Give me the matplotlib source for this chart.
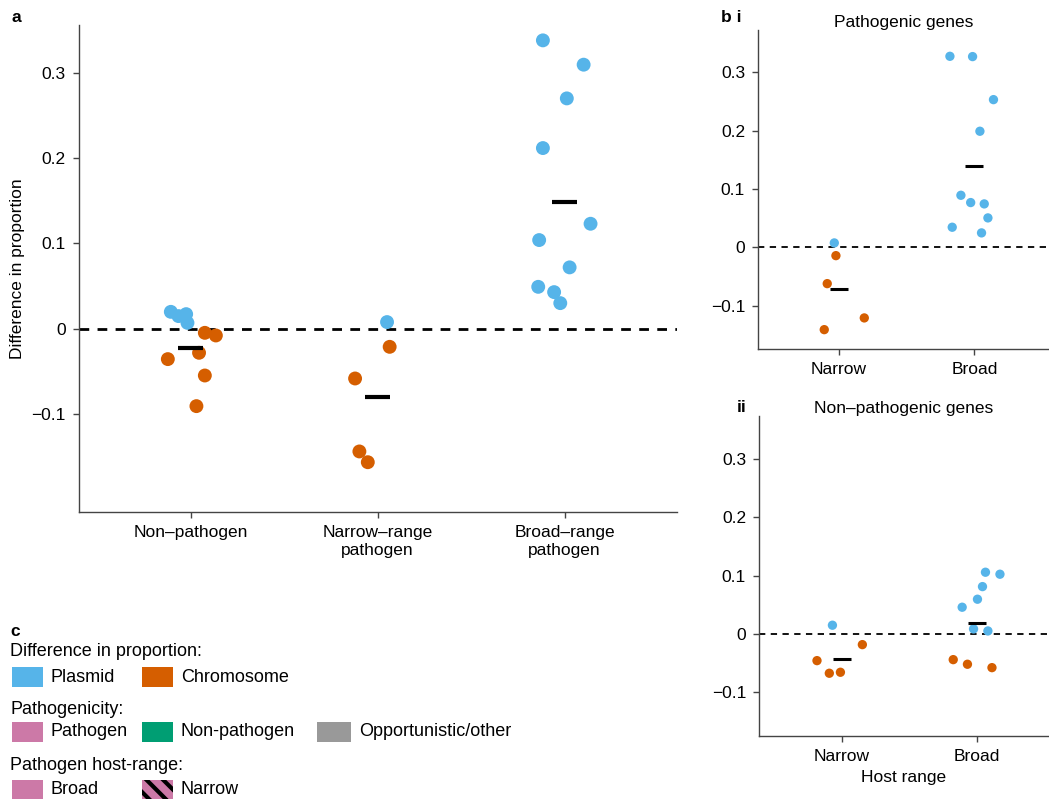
import numpy as np
import matplotlib
matplotlib.use("Agg")
import matplotlib.pyplot as plt
from matplotlib.patches import Rectangle

plt.rcParams['font.family'] = ['Liberation Sans', 'DejaVu Sans']
plt.rcParams['font.size'] = 12.5
plt.rcParams['hatch.linewidth'] = 3.0
plt.rcParams['hatch.color'] = 'black'

PLASMID = '#56B4E9'
CHROM = '#D55E00'
PATHOGEN = '#CC79A7'
NONPATH = '#009E73'
OTHER = '#999999'

# ---- panel a: difference in proportion by pathogen class ----
a_groups = ["Non\u2013pathogen", "Narrow\u2013range\npathogen", "Broad\u2013range\npathogen"]

a_plasmid_y = [[0.0199, 0.0149, 0.0172, 0.0070],
               [0.0079],
               [0.338, 0.3095, 0.270, 0.2118, 0.1231, 0.104, 0.072, 0.0492, 0.043, 0.0301]]
a_plasmid_jit = [[-0.107, -0.066, -0.025, -0.018],
                 [0.050],
                 [-0.116, 0.102, 0.012, -0.116, 0.139, -0.136, 0.027, -0.141, -0.056, -0.023]]

a_chrom_y = [[-0.0355, -0.0281, -0.0547, -0.0906, -0.0047, -0.0078],
             [-0.0211, -0.0582, -0.1437, -0.1563],
             []]
a_chrom_jit = [[-0.123, 0.044, 0.075, 0.030, 0.075, 0.134],
               [0.064, -0.121, -0.098, -0.053],
               []]

a_mean = [-0.0223, -0.0797, 0.1489]

# ---- panel b: pathogenic / non-pathogenic genes by host range ----
b_groups = ["Narrow", "Broad"]

bi_plasmid_y = [[0.0074],
                [0.3274, 0.3269, 0.2531, 0.1989, 0.0891, 0.0766, 0.0743, 0.0503, 0.0343, 0.0246]]
bi_plasmid_jit = [[-0.032],
                  [-0.180, -0.013, 0.141, 0.041, -0.099, -0.027, 0.073, 0.100, -0.163, 0.053]]
bi_chrom_y = [[-0.0144, -0.0624, -0.1413, -0.1212], []]
bi_chrom_jit = [[-0.020, -0.084, -0.106, 0.189], []]
bi_mean = [-0.0715, 0.1394]

bii_plasmid_y = [[0.0149],
                 [0.1056, 0.1022, 0.081, 0.0594, 0.0457, 0.0086, 0.0051]]
bii_plasmid_jit = [[-0.069],
                   [0.061, 0.168, 0.039, 0.002, -0.111, -0.027, 0.079]]
bii_chrom_y = [[-0.0457, -0.0673, -0.0656, -0.0183],
               [-0.044, -0.0519, -0.0577]]
bii_chrom_jit = [[-0.183, -0.092, -0.010, 0.152],
                 [-0.177, -0.072, 0.109]]
bii_mean = [-0.0428, 0.0183]

yticks = [-0.1, 0, 0.1, 0.2, 0.3]
ytick_labels = ["\u22120.1", "0", "0.1", "0.2", "0.3"]


def style_axis(ax):
    for side in ['top', 'right']:
        ax.spines[side].set_visible(False)
    for side in ['left', 'bottom']:
        ax.spines[side].set_color('#444444')
        ax.spines[side].set_linewidth(1.0)
    ax.tick_params(length=4.5, width=1.0, color='#444444', pad=5, labelsize=12.5)
    ax.set_yticks(yticks)
    ax.set_yticklabels(ytick_labels)


def draw_strip(ax, plasmid_y, plasmid_jit, chrom_y, chrom_jit, means,
               msize, bar_lw, dash_lw, dashes):
    ax.axhline(0, color='black', lw=dash_lw, ls=(0, dashes), zorder=1)
    for i in range(len(means)):
        ax.scatter(i + np.array(plasmid_jit[i]), plasmid_y[i], s=msize,
                   color=PLASMID, edgecolor='none', zorder=3)
        if len(chrom_y[i]) > 0:
            ax.scatter(i + np.array(chrom_jit[i]), chrom_y[i], s=msize,
                       color=CHROM, edgecolor='none', zorder=3)
        ax.hlines(means[i], i - 0.067, i + 0.067, color='black', lw=bar_lw, zorder=4)


W, H = 1049, 799
fig = plt.figure(figsize=(W / 100, H / 100), dpi=100)

# panel a
ax_a = fig.add_axes([78.7 / W, 1 - 512.3 / H, 598 / W, 487.3 / H])
draw_strip(ax_a, a_plasmid_y, a_plasmid_jit, a_chrom_y, a_chrom_jit, a_mean,
           msize=100, bar_lw=3.0, dash_lw=2.0, dashes=(3.5, 3.0))
style_axis(ax_a)
ax_a.set_xlim(-0.6, 2.6)
ax_a.set_ylim(-0.215, 0.356)
ax_a.set_xticks(range(len(a_groups)))
ax_a.set_xticklabels(a_groups)
fig.text(18 / W, 1 - 269 / H, "Difference in proportion", rotation=90,
         ha='center', va='center', fontsize=12.5)

# panel b i
ax_bi = fig.add_axes([758.3 / W, 1 - 349.3 / H, 290 / W, 319.3 / H])
draw_strip(ax_bi, bi_plasmid_y, bi_plasmid_jit, bi_chrom_y, bi_chrom_jit, bi_mean,
           msize=45, bar_lw=2.2, dash_lw=1.3, dashes=(3.5, 3.0))
style_axis(ax_bi)
ax_bi.set_xlim(-0.592, 1.545)
ax_bi.set_ylim(-0.175, 0.3725)
ax_bi.set_xticks(range(len(b_groups)))
ax_bi.set_xticklabels(b_groups)
ax_bi.set_title("Pathogenic genes", fontsize=12.5, pad=2)

# panel b ii
ax_bii = fig.add_axes([759.3 / W, 1 - 736 / H, 289 / W, 320 / H])
draw_strip(ax_bii, bii_plasmid_y, bii_plasmid_jit, bii_chrom_y, bii_chrom_jit, bii_mean,
           msize=45, bar_lw=2.2, dash_lw=1.3, dashes=(3.5, 3.0))
style_axis(ax_bii)
ax_bii.set_xlim(-0.609, 1.525)
ax_bii.set_ylim(-0.1747, 0.373)
ax_bii.set_xticks(range(len(b_groups)))
ax_bii.set_xticklabels(b_groups)
ax_bii.set_title("Non\u2013pathogenic genes", fontsize=12.5, pad=2)
ax_bii.set_xlabel("Host range", fontsize=12.5, labelpad=4)

# panel letters
fig.text(12 / W, 1 - 17 / H, "a", fontweight='bold', fontsize=12.5, ha='left', va='center')
fig.text(721 / W, 1 - 17 / H, "b i", fontweight='bold', fontsize=12.5, ha='left', va='center')
fig.text(737 / W, 1 - 407 / H, "ii", fontweight='bold', fontsize=12.5, ha='left', va='center')
fig.text(10 / W, 1 - 632 / H, "c", fontweight='bold', fontsize=12.5, ha='left', va='center')

# panel c: colour key drawn on an overlay axis in pixel units
key = fig.add_axes([0, 0, 1, 1], zorder=-1)
key.set_xlim(0, W)
key.set_ylim(H, 0)
key.axis('off')

key_rows = [
    ("Difference in proportion:", 652, 677,
     [("Plasmid", PLASMID, None), ("Chromosome", CHROM, None)]),
    ("Pathogenicity:", 710, 732,
     [("Pathogen", PATHOGEN, None), ("Non-pathogen", NONPATH, None),
      ("Opportunistic/other", OTHER, None)]),
    ("Pathogen host-range:", 765, 790,
     [("Broad", PATHOGEN, None), ("Narrow", PATHOGEN, '\\\\')]),
]
col_x = [12, 142, 317]

for heading, head_y, row_y, entries in key_rows:
    key.text(10, head_y, heading, ha='left', va='center', fontsize=13)
    for j, (label, colour, hatch) in enumerate(entries):
        x0 = col_x[j]
        sw = 34 if j == 2 else 31
        key.add_patch(Rectangle((x0, row_y - 10), sw, 20, facecolor=colour,
                                edgecolor='black' if hatch else 'none',
                                hatch=hatch, lw=0))
        key.text(x0 + sw + 8, row_y, label, ha='left', va='center', fontsize=13)

fig.savefig("out.png", dpi=100)
